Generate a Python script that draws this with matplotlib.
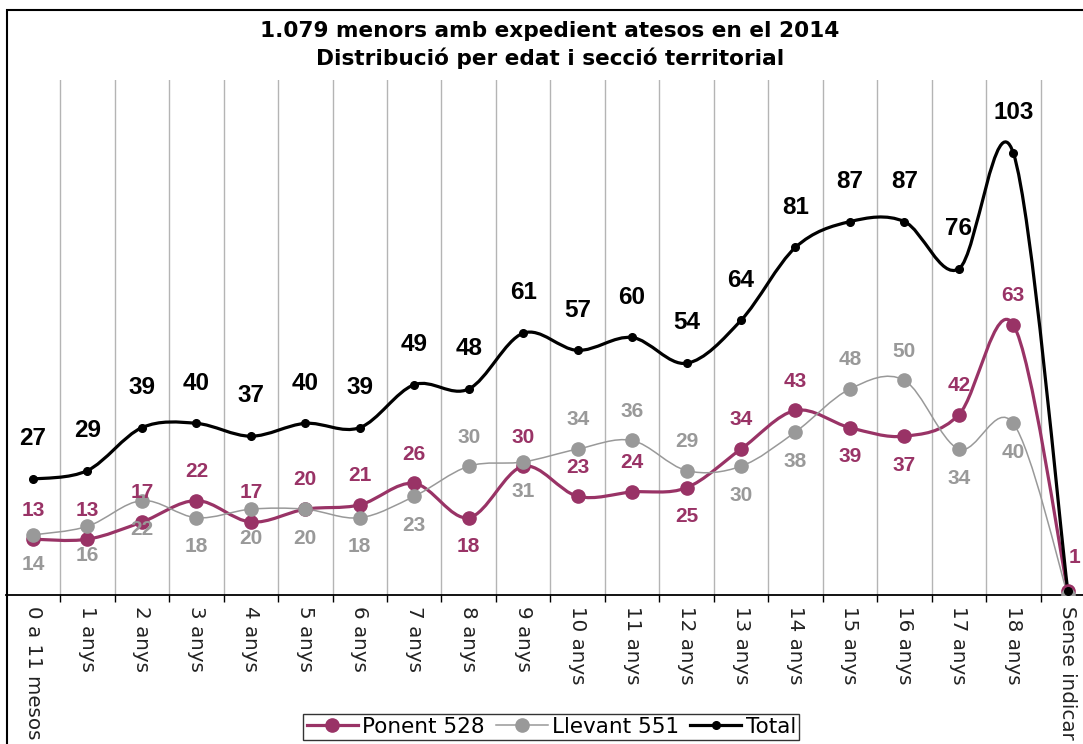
import numpy as np
import matplotlib
matplotlib.use("Agg")
import matplotlib.pyplot as plt
from matplotlib.path import Path
from matplotlib.patches import PathPatch, Rectangle
from matplotlib.lines import Line2D

categories = ["0 a 11 mesos", "1 anys", "2 anys", "3 anys", "4 anys", "5 anys",
              "6 anys", "7 anys", "8 anys", "9 anys", "10 anys", "11 anys",
              "12 anys", "13 anys", "14 anys", "15 anys", "16 anys", "17 anys",
              "18 anys", "Sense indicar"]
ponent = [13, 13, 17, 22, 17, 20, 21, 26, 18, 30, 23, 24, 25, 34, 43, 39, 37, 42, 63, 1]
llevant = [14, 16, 22, 18, 20, 20, 18, 23, 30, 31, 34, 36, 29, 30, 38, 48, 50, 34, 40, 0]
total = [27, 29, 39, 40, 37, 40, 39, 49, 48, 61, 57, 60, 54, 64, 81, 87, 87, 76, 103, 1]

# label placement: 1 = above, -1 = below, 0 = hidden, 2 = right
ponent_pos = [1, 1, 1, 1, 1, 1, 1, 1, -1, 1, 1, 1, -1, 1, 1, -1, -1, 1, 1, 2]
llevant_pos = [-1, -1, -1, -1, -1, -1, -1, -1, 1, -1, 1, 1, 1, -1, -1, 1, 1, -1, -1, 0]

PONENT_C = "#993366"
LLEVANT_C = "#999999"
TOTAL_C = "#000000"


def smooth_path(x, y):
    """Corba suavitzada a l'estil d'Excel (Bezier tipus Catmull-Rom)."""
    pts = np.column_stack([x, y]).astype(float)
    n = len(pts)
    verts = [pts[0]]
    codes = [Path.MOVETO]
    for i in range(n - 1):
        p0 = pts[max(i - 1, 0)]
        p1 = pts[i]
        p2 = pts[i + 1]
        p3 = pts[min(i + 2, n - 1)]
        verts += [p1 + (p2 - p0) / 6, p2 - (p3 - p1) / 6, p2]
        codes += [Path.CURVE4] * 3
    return Path(verts, codes)


fig = plt.figure(figsize=(10.83, 7.44), dpi=100)
ax = fig.add_axes([5.8 / 1083, 1 - 595 / 744, (1095 - 5.8) / 1083, (595 - 80) / 744])

x = np.arange(len(categories))

series = [
    (ponent, PONENT_C, 2.3, 9.5),
    (llevant, LLEVANT_C, 1.1, 9.5),
    (total, TOTAL_C, 2.3, 5.5),
]
for vals, col, lw, ms in series:
    ax.add_patch(PathPatch(smooth_path(x, vals), fill=False, edgecolor=col,
                           lw=lw, capstyle="round", joinstyle="round", zorder=3))
    ax.plot(x, vals, ls="none", marker="o", ms=ms, color=col, zorder=4)

# etiquetes de dades
for i, v in enumerate(total):
    if i == len(total) - 1:
        continue
    ax.annotate(str(v), (i, v), xytext=(0, 29), textcoords="offset points",
                ha="center", va="center", fontsize=17.5, fontweight="bold",
                family="Liberation Sans", color=TOTAL_C, zorder=5)

for vals, pos, col in [(ponent, ponent_pos, PONENT_C), (llevant, llevant_pos, LLEVANT_C)]:
    for i, v in enumerate(vals):
        p = pos[i]
        if p == 0:
            continue
        if p == 2:
            off = (5, 24)
        else:
            off = (0, 21 * p)
        ax.annotate(str(v), (i, v), xytext=off, textcoords="offset points",
                    ha="center", va="center", fontsize=15, fontweight="bold",
                    family="Liberation Sans", color=col, zorder=5)

ax.set_xlim(-0.5, len(categories) - 0.5)
ax.set_ylim(0, 120)
ax.set_yticks([])
for s in ["left", "right", "top"]:
    ax.spines[s].set_visible(False)
ax.spines["bottom"].set_color("black")
ax.spines["bottom"].set_linewidth(1.3)

ax.set_xticks(x)
ax.set_xticklabels(categories, rotation=270, fontsize=14.3, color="#222222")
ax.tick_params(axis="x", which="major", length=0, pad=8)
ax.set_xticks(np.arange(len(categories) - 1) + 0.5, minor=True)
ax.tick_params(axis="x", which="minor", length=5, width=1, direction="out", color="black")
ax.grid(True, axis="x", which="minor", color="#b4b4b4", lw=1)
ax.set_axisbelow(True)

fig.text(0.508, 0.959, "1.079 menors amb expedient atesos en el 2014",
         ha="center", va="center", fontsize=15.6, fontweight="bold")
fig.text(0.508, 0.922, "Distribució per edat i secció territorial",
         ha="center", va="center", fontsize=15.6, fontweight="bold")

handles = [
    Line2D([], [], color=PONENT_C, lw=2.3, marker="o", ms=9.5),
    Line2D([], [], color=LLEVANT_C, lw=1.1, marker="o", ms=9.5),
    Line2D([], [], color=TOTAL_C, lw=2.3, marker="o", ms=5.5),
]
leg = fig.legend(handles, ["Ponent 528", "Llevant 551", "Total"], loc="center",
                 bbox_to_anchor=(0.509, 0.023), ncol=3, fontsize=15.5, frameon=True,
                 fancybox=False, edgecolor="black", handlelength=2.4,
                 handletextpad=0.2, columnspacing=0.5, borderpad=0.15,
                 borderaxespad=0)
leg.get_frame().set_linewidth(1.0)

fig.patches.append(Rectangle((7 / 1083, -0.1), 1.2, 0.1 + 1 - 10 / 744, fill=False,
                             edgecolor="black", lw=1.5, transform=fig.transFigure))

fig.savefig("out.png", dpi=100)
